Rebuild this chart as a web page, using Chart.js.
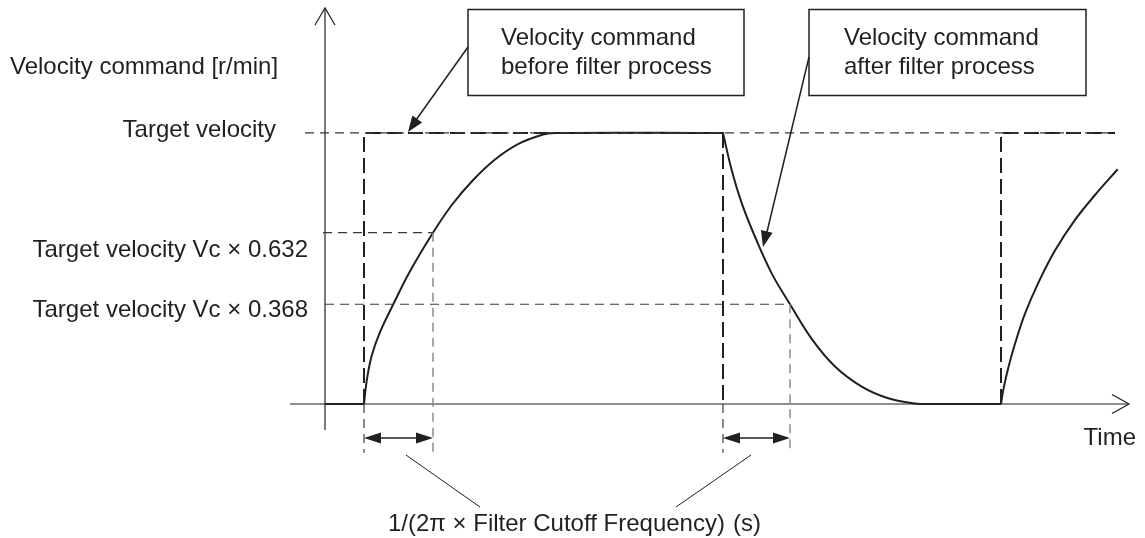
<!DOCTYPE html>
<html>
<head>
<meta charset="utf-8">
<script src="https://cdn.jsdelivr.net/npm/chart.js@4/dist/chart.umd.min.js"></script>
<style>
  body { margin: 0; background: #fff; }
</style>
</head>
<body>
<canvas id="filterChart" width="1145" height="538"></canvas>
<script>
// Velocity levels (fraction of target velocity) and their labels
const levelValues = [1, 0.632, 0.368];
const levelLabels = ['Target velocity', 'Target velocity Vc \u00d7 0.632', 'Target velocity Vc \u00d7 0.368'];

// Command edges and time-constant points on the time axis
const stepTimes = [3.9, 39.8, 67.6];
const tauTimes = [10.8, 46.5];

// Velocity command before filter (step), null breaks the line
const cmdTime = [3.9, 3.9, 39.8, 39.8, null, 67.6, 67.6, 79.0];
const cmdVel  = [0, 1, 1, 0, null, 0, 1, 1];

// Velocity command after filter, null breaks the line
const outTime = [0, 3.9, null,
  3.9, 4.17, 4.67, 5.5, 6.83, 8.5, 10.8, 12.7, 14.7, 17.0, 19.3, 21.7, 23.0, 39.8, null,
  39.8, 40.67, 41.67, 43.0, 44.67, 46.5, 48.67, 51.0, 53.67, 56.33, 59.0, 60.3, 67.6, null,
  67.6, 67.83, 68.33, 69.0, 70.0, 71.33, 73.0, 75.0, 77.0, 79.27];
const outVel = [0, 0, null,
  0, 0.085, 0.178, 0.265, 0.368, 0.49, 0.632, 0.735, 0.822, 0.902, 0.959, 0.993, 1, 1, null,
  1, 0.863, 0.741, 0.617, 0.482, 0.368, 0.240, 0.138, 0.064, 0.021, 0.002, 0, 0, null,
  0, 0.052, 0.134, 0.222, 0.333, 0.447, 0.566, 0.679, 0.771, 0.866];

// Extents of the thin guide lines
const guideStart = [-2.0, -0.2, 0];
const guideEnd = [79.0, tauTimes[0], tauTimes[1]];
const guideBottom = -0.18;

const INK = '#231f20';
const FONT = '24px "Liberation Sans", Arial, sans-serif';

function toPoints(xs, ys) {
  return xs.map((x, i) => (x === null ? { x: NaN, y: null } : { x: x, y: ys[i] }));
}

// horizontal guides at each level
const hGuide = [];
levelValues.forEach((v, i) => {
  hGuide.push({ x: guideStart[i], y: v }, { x: guideEnd[i], y: v }, { x: NaN, y: null });
});
// dark verticals below the axis at the first two command edges
const vGuideDark = [];
stepTimes.slice(0, 2).forEach(t => {
  vGuideDark.push({ x: t, y: 0 }, { x: t, y: guideBottom }, { x: NaN, y: null });
});
// grey verticals from the 0.632 / 0.368 crossings
const vGuideGrey = [];
tauTimes.forEach((t, i) => {
  vGuideGrey.push({ x: t, y: levelValues[i + 1] }, { x: t, y: guideBottom }, { x: NaN, y: null });
});

function arrowHead(ctx, x1, y1, x2, y2, len, half) {
  const a = Math.atan2(y2 - y1, x2 - x1);
  ctx.beginPath();
  ctx.moveTo(x2, y2);
  ctx.lineTo(x2 - len * Math.cos(a) + half * Math.sin(a), y2 - len * Math.sin(a) - half * Math.cos(a));
  ctx.lineTo(x2 - len * Math.cos(a) - half * Math.sin(a), y2 - len * Math.sin(a) + half * Math.cos(a));
  ctx.closePath();
  ctx.fill();
}

function line(ctx, x1, y1, x2, y2) {
  ctx.beginPath();
  ctx.moveTo(x1, y1);
  ctx.lineTo(x2, y2);
  ctx.stroke();
}

const diagramPlugin = {
  id: 'diagram',
  beforeDatasetsDraw(chart) {
    const { ctx, scales: { x, y } } = chart;
    const x0 = x.getPixelForValue(0);
    const y0 = y.getPixelForValue(0);
    ctx.save();
    ctx.strokeStyle = INK;
    ctx.lineWidth = 1.2;
    // vertical axis with open arrow
    line(ctx, x0, y.bottom, x0, y.top);
    ctx.beginPath();
    ctx.moveTo(x0 - 10, y.top + 17);
    ctx.lineTo(x0, y.top);
    ctx.lineTo(x0 + 10, y.top + 17);
    ctx.stroke();
    // time axis with open arrow
    line(ctx, x0 - 35, y0, x.right - 2, y0);
    ctx.beginPath();
    ctx.moveTo(x.right - 18, y0 - 9.5);
    ctx.lineTo(x.right - 1, y0);
    ctx.lineTo(x.right - 18, y0 + 9.5);
    ctx.stroke();
    ctx.restore();
  },
  afterDatasetsDraw(chart) {
    const { ctx, scales: { x, y } } = chart;
    ctx.save();
    ctx.fillStyle = INK;
    ctx.strokeStyle = INK;
    ctx.font = FONT;
    ctx.textBaseline = 'alphabetic';

    // axis and level labels
    ctx.textAlign = 'left';
    ctx.fillText('Velocity command [r/min]', 10, 74);
    ctx.textAlign = 'right';
    ctx.fillText(levelLabels[0], 276, 137);
    ctx.fillText(levelLabels[1], 308, 257);
    ctx.fillText(levelLabels[2], 308, 317);
    ctx.fillText('Time', 1136, 445);

    // callout boxes
    ctx.lineWidth = 1.5;
    ctx.strokeRect(468, 9.5, 276, 86);
    ctx.strokeRect(809, 9.5, 277, 86);
    ctx.textAlign = 'left';
    ctx.fillText('Velocity command', 501, 45);
    ctx.fillText('before filter process', 501, 74);
    ctx.fillText('Velocity command', 844, 45);
    ctx.fillText('after filter process', 844, 74);

    // callout arrows
    ctx.lineWidth = 1.5;
    line(ctx, 468, 47, 416, 120);
    arrowHead(ctx, 468, 47, 408, 132, 16, 6);
    line(ctx, 809, 57, 766, 236);
    arrowHead(ctx, 809, 57, 763, 247, 16, 6);

    // time-constant double arrows
    const ya = 438;
    ctx.lineWidth = 1.3;
    [[stepTimes[0], tauTimes[0]], [stepTimes[1], tauTimes[1]]].forEach(([a, b]) => {
      const xa = x.getPixelForValue(a);
      const xb = x.getPixelForValue(b);
      line(ctx, xa + 8, ya, xb - 8, ya);
      arrowHead(ctx, xb, ya, xa, ya, 17, 5.5);
      arrowHead(ctx, xa, ya, xb, ya, 17, 5.5);
    });

    // leader lines to the time-constant note
    ctx.lineWidth = 1;
    line(ctx, 406, 455, 480, 507);
    line(ctx, 751, 455, 676, 507);
    ctx.textAlign = 'left';
    ctx.fillText('1/(2\u03c0 \u00d7 Filter Cutoff Frequency)', 388, 531);
    ctx.fillText('(s)', 733, 531);
    ctx.restore();
  }
};

new Chart(document.getElementById('filterChart'), {
  type: 'scatter',
  data: {
    datasets: [
      {
        label: 'Guides',
        data: hGuide,
        showLine: true,
        borderColor: '#3a3a3a',
        borderWidth: 1.2,
        borderDash: [9, 6],
        pointRadius: 0,
        spanGaps: false,
        clip: false
      },
      {
        label: 'Edge guides',
        data: vGuideDark,
        showLine: true,
        borderColor: '#3a3a3a',
        borderWidth: 1.2,
        borderDash: [9, 6],
        pointRadius: 0,
        spanGaps: false,
        clip: false
      },
      {
        label: 'Time constant guides',
        data: vGuideGrey,
        showLine: true,
        borderColor: '#8c8c8c',
        borderWidth: 1.5,
        borderDash: [9, 6],
        pointRadius: 0,
        spanGaps: false,
        clip: false
      },
      {
        label: 'Velocity command before filter process',
        data: toPoints(cmdTime, cmdVel),
        showLine: true,
        borderColor: INK,
        borderWidth: 2,
        borderDash: [15, 6],
        pointRadius: 0,
        spanGaps: false,
        clip: false
      },
      {
        label: 'Velocity command after filter process',
        data: toPoints(outTime, outVel),
        showLine: true,
        borderColor: INK,
        borderWidth: 2,
        tension: 0.4,
        pointRadius: 0,
        spanGaps: false,
        clip: false
      }
    ]
  },
  options: {
    responsive: false,
    animation: false,
    layout: { padding: { left: 290, right: 15, top: 8, bottom: 108 } },
    scales: {
      x: { type: 'linear', min: -3.5, max: 80.5, display: false },
      y: { type: 'linear', min: -0.096, max: 1.461, display: false }
    },
    plugins: {
      legend: { display: false },
      tooltip: { enabled: false }
    }
  },
  plugins: [diagramPlugin]
});
</script>
</body>
</html>
